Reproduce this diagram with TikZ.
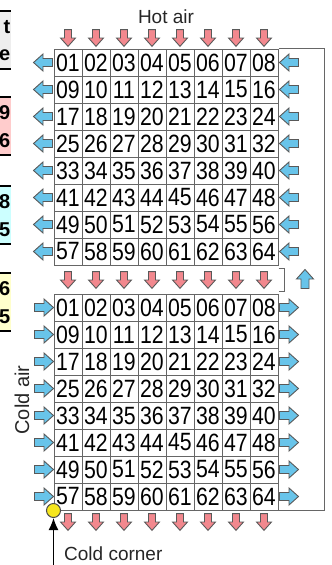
\documentclass[tikz,border=0pt]{standalone}
\usepackage{fontspec}
\setmainfont{Liberation Sans}
\usepackage{graphicx}
\usetikzlibrary{arrows.meta,positioning}
\definecolor{airblue}{RGB}{104,196,234}
\definecolor{airred}{RGB}{242,136,142}
\definecolor{cornerdot}{RGB}{246,230,30}
\definecolor{legendgray}{RGB}{238,238,238}
\definecolor{legendpink}{RGB}{255,204,204}
\definecolor{legendcyan}{RGB}{204,255,255}
\definecolor{legendyellow}{RGB}{255,255,204}
\newcommand\cellno[1]{\scalebox{0.85}[1]{#1}}
\tikzset{
  >={Latex[length=12pt,width=10pt]},
  cell/.style={draw=black!60,line width=1pt,minimum width=28pt,minimum height=27pt,
    inner sep=0pt,font=\fontsize{25}{25}\selectfont},
  frame/.style={draw=black!60,line width=1pt},
  rule/.style={draw=black,line width=2pt},
  tag/.style={font=\fontsize{19}{19}\selectfont,text=black!85,inner sep=1pt},
  legend text/.style={anchor=east,inner sep=0.5pt,font=\fontsize{20}{20}\selectfont\bfseries},
  corner dot/.style={circle,draw=black!70,fill=cornerdot,line width=1pt,
    minimum size=14pt,inner sep=0pt},
  % block arrow for the air flow
  pics/airflow/.style={code={
    \draw[draw=black!65,fill=#1,line width=0.9pt,line join=miter]
      (-9.5,-4) -- (0,-4) -- (0,-8.5) -- (9.5,0) -- (0,8.5) -- (0,4) -- (-9.5,4) -- cycle;
  }},
  pics/airflow/.default=airblue,
}
\begin{document}
\begin{tikzpicture}[x=1pt,y=-1pt]
  \useasboundingbox (0,0) rectangle (332,565);
  \clip (0,0) rectangle (332,565);
  % cut-off legend on the left
  \foreach \top/\shade/\ta/\tb [count=\k] in
      {11/legendgray/t/e, 97/legendpink/9/6, 186/legendcyan/8/5, 273/legendyellow/6/5}{
    \fill[\shade] (-2,\top) rectangle (11,\top+58);
    \draw[rule] (-2,\top) -- (11,\top) (-2,\top+58) -- (11,\top+58);
    \node[legend text] (leg-\k-a) at (11,\top+16) {\ta};
    \node[legend text] (leg-\k-b) at (11,\top+44) {\tb};
  }
  % the two grids
  \foreach \r in {0,...,7}{
    \foreach \c in {0,...,7}{
      \pgfmathtruncatemacro\n{8*\r+\c+1}
      \node[cell] (hot-\n) at (68+28*\c,62.5+27*\r) {\cellno{\ifnum\n<10 0\fi\n}};
      \node[cell] (cold-\n) at (68+28*\c,307.5+27*\r) {\cellno{\ifnum\n<10 0\fi\n}};
    }
  }
  % air flow arrows
  \foreach \i in {0,...,7}{
    \pic[rotate=-90,scale=0.88] at (68+28*\i,38) {airflow=airred};
    \pic[rotate=-90,scale=0.88] at (68+28*\i,280) {airflow=airred};
    \pic[rotate=-90,scale=0.88] at (68+28*\i,522) {airflow=airred};
    \pic[rotate=180] at (43,62.5+27*\i) {airflow};
    \pic[rotate=180] at (289,62.5+27*\i) {airflow};
    \pic at (44,307.5+27*\i) {airflow};
    \pic at (289,307.5+27*\i) {airflow};
  }
  \pic[rotate=90] at (305,279) {airflow};
  % return duct and gap bracket
  \draw[frame] (hot-8.north east) -- ++(46,0) |- (cold-64.south east);
  \draw[frame] ([yshift=-3pt]hot-64.south east) -- ++(6,0) |- ([yshift=2pt]cold-8.north east);
  % labels
  \node[tag] (hot air) at (166,17) {Hot air};
  \node[tag,rotate=90,font=\fontsize{20}{20}\selectfont] (cold air) at (22,400) {Cold air};
  \node[tag,anchor=west] (cold label) at (63,554) {Cold corner};
  \node[corner dot] (cold corner) at (cold-57.south west) {};
  \coordinate[below=60pt of cold corner.south] (probe);
  \draw[->,line width=1.3pt] (probe) -- (cold corner.south);
\end{tikzpicture}
\end{document}
